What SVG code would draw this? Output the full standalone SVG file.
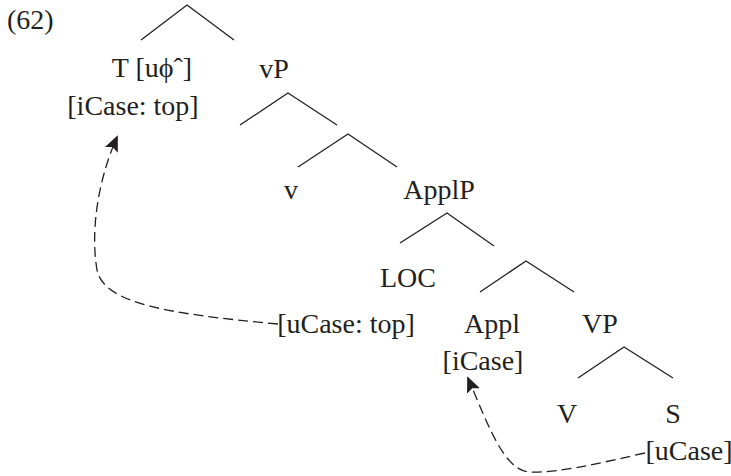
<svg xmlns="http://www.w3.org/2000/svg" width="731" height="476" viewBox="0 0 731 476">
<style>
text{font-family:"Liberation Serif","Times New Roman",serif;font-size:28px;fill:#231f20;text-anchor:middle}
.br{stroke:#231f20;stroke-width:1.3;fill:none}
.dash{stroke:#231f20;stroke-width:1.3;fill:none;stroke-dasharray:10 5}
</style>
<defs>
<marker id="ah" markerWidth="16" markerHeight="14" refX="14" refY="7" orient="auto" markerUnits="userSpaceOnUse">
<path d="M0,0 L16,7 L0,14 L3,7 Z" fill="#231f20"/>
</marker>
</defs>
<rect width="731" height="476" fill="#fff"/>
<text x="7" y="29" style="text-anchor:start">(62)</text>
<g id="branches" class="br">
<path d="M141,40 L187,5 L234,40"/>
<path d="M240,125 L288,93 L337,125"/>
<path d="M298,167 L348,134 L397,167"/>
<path d="M400,243 L447,213 L494,246"/>
<path d="M480,292 L526,261 L574,292"/>
<path d="M578,378 L624,347 L673,378"/>
</g>
<g id="node-T"><text x="152" y="77">T [uϕˆ]</text><text x="133" y="115">[iCase: top]</text></g>
<g id="node-vP"><text x="274" y="78">vP</text></g>
<g id="node-v"><text x="291" y="199">v</text></g>
<g id="node-ApplP"><text x="439" y="199">ApplP</text></g>
<g id="node-LOC"><text x="408" y="287">LOC</text><text x="346" y="333">[uCase: top]</text></g>
<g id="node-Appl"><text x="492" y="333">Appl</text><text x="483" y="370">[iCase]</text></g>
<g id="node-VP"><text x="600" y="333">VP</text></g>
<g id="node-V"><text x="567" y="423">V</text></g>
<g id="node-S"><text x="673" y="423">S</text><text x="689" y="460">[uCase]</text></g>
<g id="connectors">
<path class="dash" d="M278,324 C170,314 104,304 97,270 C91,235 96,185 117,137" marker-end="url(#ah)"/>
<path class="dash" d="M645,453 C600,463 560,473 530,472 C505,471 490,430 468,378" marker-end="url(#ah)"/>
</g>
</svg>
